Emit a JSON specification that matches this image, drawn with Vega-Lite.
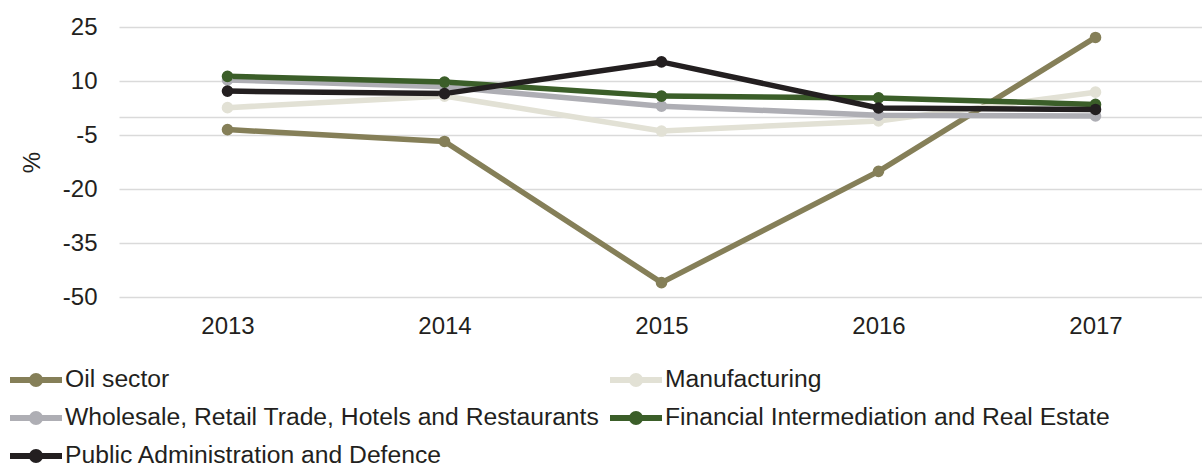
{
  "$schema": "https://vega.github.io/schema/vega-lite/v6.json",
  "width": 1085,
  "height": 270,
  "autosize": {"type": "none"},
  "padding": {"left": 119, "top": 27, "right": 0, "bottom": 170},
  "background": "white",
  "data": {
    "values": [
      {"series": "Oil sector", "year": "2013", "value": -3.5},
      {"series": "Oil sector", "year": "2014", "value": -6.8},
      {"series": "Oil sector", "year": "2015", "value": -46},
      {"series": "Oil sector", "year": "2016", "value": -15.1},
      {"series": "Oil sector", "year": "2017", "value": 22.1},
      {"series": "Manufacturing", "year": "2013", "value": 2.6},
      {"series": "Manufacturing", "year": "2014", "value": 5.8},
      {"series": "Manufacturing", "year": "2015", "value": -3.9},
      {"series": "Manufacturing", "year": "2016", "value": -1.1},
      {"series": "Manufacturing", "year": "2017", "value": 6.9},
      {"series": "Wholesale, Retail Trade, Hotels and Restaurants", "year": "2013", "value": 10.3},
      {"series": "Wholesale, Retail Trade, Hotels and Restaurants", "year": "2014", "value": 8.4},
      {"series": "Wholesale, Retail Trade, Hotels and Restaurants", "year": "2015", "value": 3.0},
      {"series": "Wholesale, Retail Trade, Hotels and Restaurants", "year": "2016", "value": 0.5},
      {"series": "Wholesale, Retail Trade, Hotels and Restaurants", "year": "2017", "value": 0.3},
      {"series": "Financial Intermediation and Real Estate", "year": "2013", "value": 11.3},
      {"series": "Financial Intermediation and Real Estate", "year": "2014", "value": 9.7},
      {"series": "Financial Intermediation and Real Estate", "year": "2015", "value": 5.8},
      {"series": "Financial Intermediation and Real Estate", "year": "2016", "value": 5.3},
      {"series": "Financial Intermediation and Real Estate", "year": "2017", "value": 3.5},
      {"series": "Public Administration and Defence", "year": "2013", "value": 7.2},
      {"series": "Public Administration and Defence", "year": "2014", "value": 6.5},
      {"series": "Public Administration and Defence", "year": "2015", "value": 15.3},
      {"series": "Public Administration and Defence", "year": "2016", "value": 2.5},
      {"series": "Public Administration and Defence", "year": "2017", "value": 2.1}
    ]
  },
  "config": {
    "view": {"stroke": null},
    "font": "Liberation Sans",
    "axis": {"labelFont": "Liberation Sans", "titleFont": "Liberation Sans", "labelColor": "#231f20", "titleColor": "#231f20"}
  },
  "encoding": {
    "x": {
      "field": "year", "type": "ordinal",
      "scale": {"type": "point", "padding": 0.5},
      "axis": {"title": null, "labelAngle": 0, "labelFontSize": 24, "ticks": false, "domain": false, "grid": false, "labelPadding": 17}
    },
    "y": {
      "field": "value", "type": "quantitative",
      "scale": {"domain": [-50, 25], "nice": false, "zero": false},
      "axis": {
        "title": "%", "titleFontSize": 24, "titleFontWeight": "normal",
        "titleX": -87, "titleY": 135, "titleAlign": "center", "titleBaseline": "middle", "titleAngle": -90,
        "values": [-50, -35, -20, -5, 0, 10, 25],
        "labelExpr": "datum.value == 0 ? '' : toString(datum.value)",
        "labelFontSize": 24, "labelPadding": 22, "ticks": false, "domain": false,
        "grid": true, "gridColor": "#dadada", "gridWidth": 1.5
      }
    },
    "color": {
      "field": "series", "type": "nominal",
      "scale": {
        "domain": ["Oil sector", "Manufacturing", "Wholesale, Retail Trade, Hotels and Restaurants", "Financial Intermediation and Real Estate", "Public Administration and Defence"],
        "range": ["#857f58", "#e2e1d5", "#aeaeb4", "#3b5e29", "#231f20"]
      },
      "legend": {
        "title": null,
        "orient": "none",
        "direction": "horizontal",
        "legendX": -96,
        "legendY": 340,
        "columns": 2,
        "columnPadding": -2,
        "rowPadding": 6,
        "padding": 0,
        "symbolType": "M-2.6,0H2.6M-0.4,0a0.4,0.4 0 1,0 0.8,0a0.4,0.4 0 1,0 -0.8,0",
        "symbolSize": 400,
        "symbolStrokeWidth": 6,
        "labelFontSize": 24.7,
        "labelFont": "Liberation Sans",
        "labelColor": "#231f20",
        "labelOffset": 16,
        "labelLimit": 800,
        "encode": {
          "symbols": {
            "update": {
              "fill": {"scale": "color", "field": "value"},
              "stroke": {"scale": "color", "field": "value"},
              "strokeWidth": {"value": 6},
              "opacity": {"value": 1}
            }
          }
        }
      }
    }
  },
  "layer": [
    {"mark": {"type": "line", "strokeWidth": 5.5}},
    {"mark": {"type": "point", "filled": true, "size": 135, "opacity": 1}}
  ]
}
